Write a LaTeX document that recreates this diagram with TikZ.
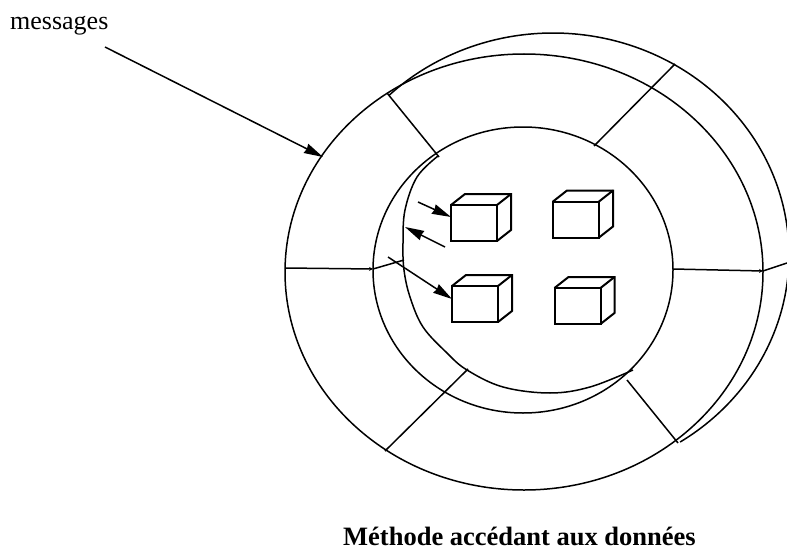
\documentclass[tikz,border=0pt]{standalone}
\usepackage{fontspec}
\setmainfont{Liberation Serif}
\usetikzlibrary{arrows.meta,calc}
\begin{document}
\begin{tikzpicture}[x=1pt,y=-1pt,
  ring/.style={line width=1.5pt},
  spoke/.style={line width=1.5pt},
  bigarrow/.style={line width=1.5pt,-{Stealth[length=19pt,width=10pt,inset=1pt]}},
  tinyarrow/.style={line width=1.5pt,-{Stealth[length=4pt,width=4pt]}},
  cube/.style={draw,line width=2pt,minimum width=46pt,minimum height=36pt,inner sep=0pt,outer sep=0pt},
  cubeedge/.style={line width=2pt,line join=miter},
  lbl/.style={inner sep=0pt,font=\fontsize{26}{30}\selectfont}]
\useasboundingbox (0,0) rectangle (787,551);

% outer ring: full ellipse and offset arc
\draw[ring] (524,272) ellipse [x radius=239pt, y radius=218pt];
\draw[ring] plot[domain=-134:57.4,samples=120,smooth] ({553+236*cos(\x)},{255+222*sin(\x)});

% inner ring: full ellipse and deformed inner boundary
\draw[ring] (523,270) ellipse [x radius=150pt, y radius=143pt];
\draw[ring] plot[smooth,tension=0.6] coordinates {(438,156) (417,177) (405,210) (403,243) (404,270) (410,297) (423,327) (447,353) (467,370) (503,387) (550,393) (590,387) (633,370)};

% named end points of spokes
\coordinate (s1a) at (387,93);  \coordinate (s1b) at (439,157);
\coordinate (s2a) at (675,64);  \coordinate (s2b) at (594,146);
\coordinate (s3a) at (285,268); \coordinate (s3b) at (373,269); \coordinate (s3c) at (404,260);
\coordinate (s4a) at (673,269); \coordinate (s4b) at (763,271); \coordinate (s4c) at (787,263);
\coordinate (s5a) at (468,369); \coordinate (s5b) at (385,451);
\coordinate (s6a) at (627,380); \coordinate (s6b) at (678,443);

\draw[spoke] (s1a) -- (s1b);
\draw[spoke] (s2a) -- (s2b);
\draw[tinyarrow] (s3a) -- (s3b);
\draw[spoke] (s3b) -- (s3c);
\draw[tinyarrow] (s4a) -- (s4b);
\draw[spoke] (s4b) -- (s4c);
\draw[spoke] (s5a) -- (s5b);
\draw[spoke] (s6a) -- (s6b);

% cubes (front faces as nodes)
\node[cube] (b1) at (474,223) {};
\node[cube] (b2) at (576,219.5) {};
\node[cube] (b3) at (475,304) {};
\node[cube] (b4) at (577.5,306) {};
\foreach \b in {b1,b2,b3,b4}{
  \draw[cubeedge] (\b.north west) -- ++(14,-11) -- ++(46,0) -- ++(0,36) -- (\b.south east);
  \draw[cubeedge] ($(\b.north east)+(14,-11)$) -- (\b.north east);
}

% arrows to and from the cubes
\coordinate (t1) at (418,202);
\coordinate (t2a) at (445,247);
\coordinate (t2b) at (405,227);
\coordinate (t3) at (388,257);
\draw[bigarrow] (t1) -- ([yshift=6pt]b1.west);
\draw[bigarrow] (t2a) -- (t2b);
\draw[bigarrow] (t3) -- ([yshift=5pt]b3.west);

% messages
\node[lbl,anchor=base west] (msg) at (10,30) {messages};
\coordinate (m1) at (105,47);
\coordinate (m2) at (323,157);
\draw[bigarrow] (m1) -- (m2);

\node[lbl,anchor=base west,font=\fontsize{26.5}{30}\selectfont\bfseries] (title) at (343,545) {Méthode accédant aux données};
\end{tikzpicture}
\end{document}
